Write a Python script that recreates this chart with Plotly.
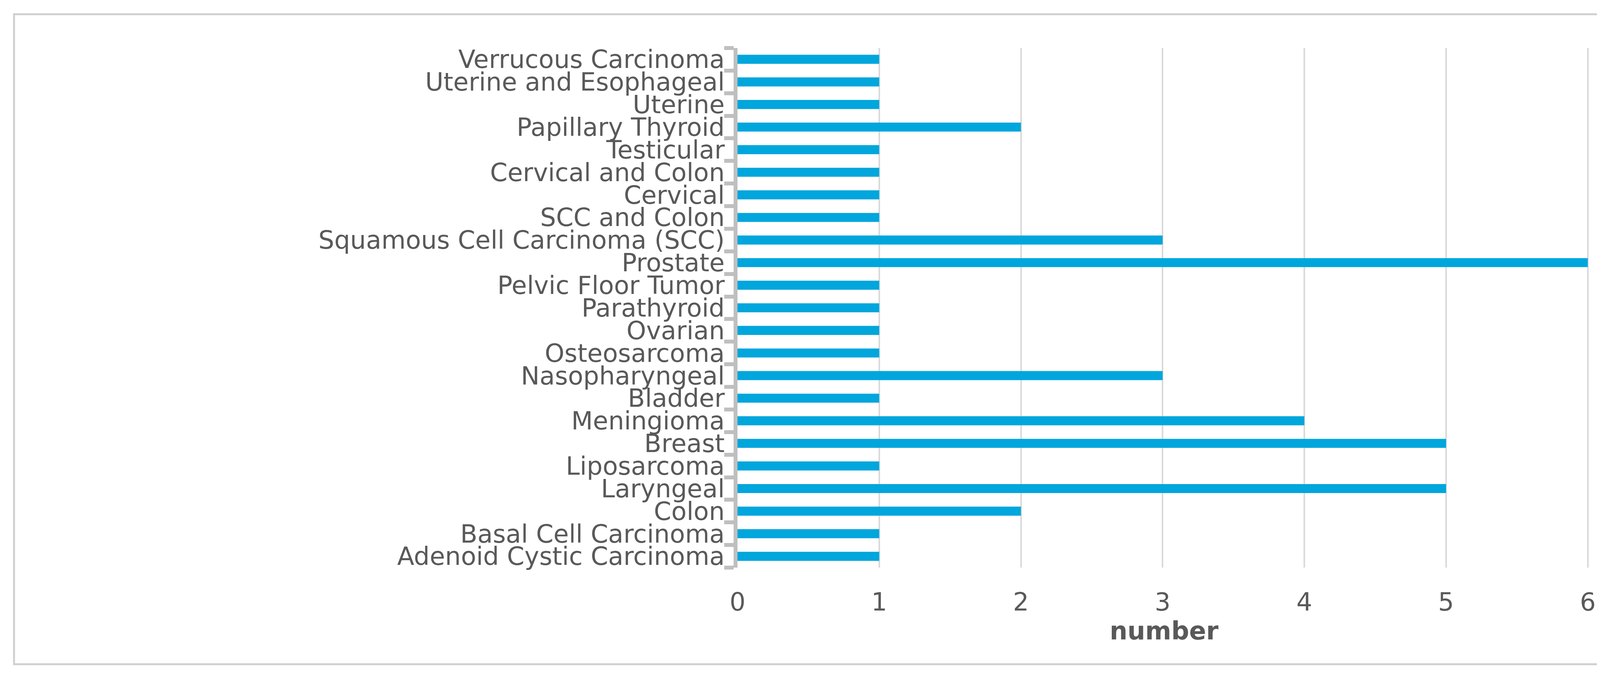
import plotly.graph_objects as go

categories = [
    "Adenoid Cystic Carcinoma", "Basal Cell Carcinoma", "Colon", "Laryngeal",
    "Liposarcoma", "Breast", "Meningioma", "Bladder", "Nasopharyngeal",
    "Osteosarcoma", "Ovarian", "Parathyroid", "Pelvic Floor Tumor", "Prostate",
    "Squamous Cell Carcinoma (SCC)", "SCC and Colon", "Cervical",
    "Cervical and Colon", "Testicular", "Papillary Thyroid", "Uterine",
    "Uterine and Esophageal", "Verrucous Carcinoma",
]
counts = [1, 1, 2, 5, 1, 5, 4, 1, 3, 1, 1, 1, 1, 6, 3, 1, 1, 1, 1, 2, 1, 1, 1]
x_ticks = [0, 1, 2, 3, 4, 5, 6]

fig = go.Figure(go.Bar(
    x=counts, y=categories, orientation="h",
    marker=dict(color="#00A6DC", line=dict(width=0)),
))

fig.update_layout(
    width=4261, height=1724,
    margin=dict(l=1880, r=197, t=115, b=278),
    plot_bgcolor="white", paper_bgcolor="white",
    bargap=0.6, showlegend=False,
    font=dict(family="DejaVu Sans", color="#595959"),
    xaxis=dict(
        range=[0, 6.02], tickvals=x_ticks, showgrid=True, gridcolor="#D9D9D9",
        gridwidth=4, zeroline=False, tickfont=dict(size=64),
        ticklabelstandoff=45,
        title=dict(text="<b>number</b>", font=dict(size=64), standoff=15),
    ),
    yaxis=dict(
        categoryorder="array", categoryarray=categories,
        tickmode="array", tickvals=categories, ticktext=categories,
        tickfont=dict(size=64), showline=True, linecolor="#BFBFBF", linewidth=10,
        ticks="outside", tickson="boundaries", ticklen=24, tickwidth=10,
        tickcolor="#BFBFBF", ticklabelstandoff=10,
    ),
    shapes=[dict(type="rect", xref="paper", yref="paper", x0=-0.848, x1=1.080,
                 y0=-0.186, y1=1.065, line=dict(color="#D0D0D0", width=5))],
)

fig.write_html("out.html")
